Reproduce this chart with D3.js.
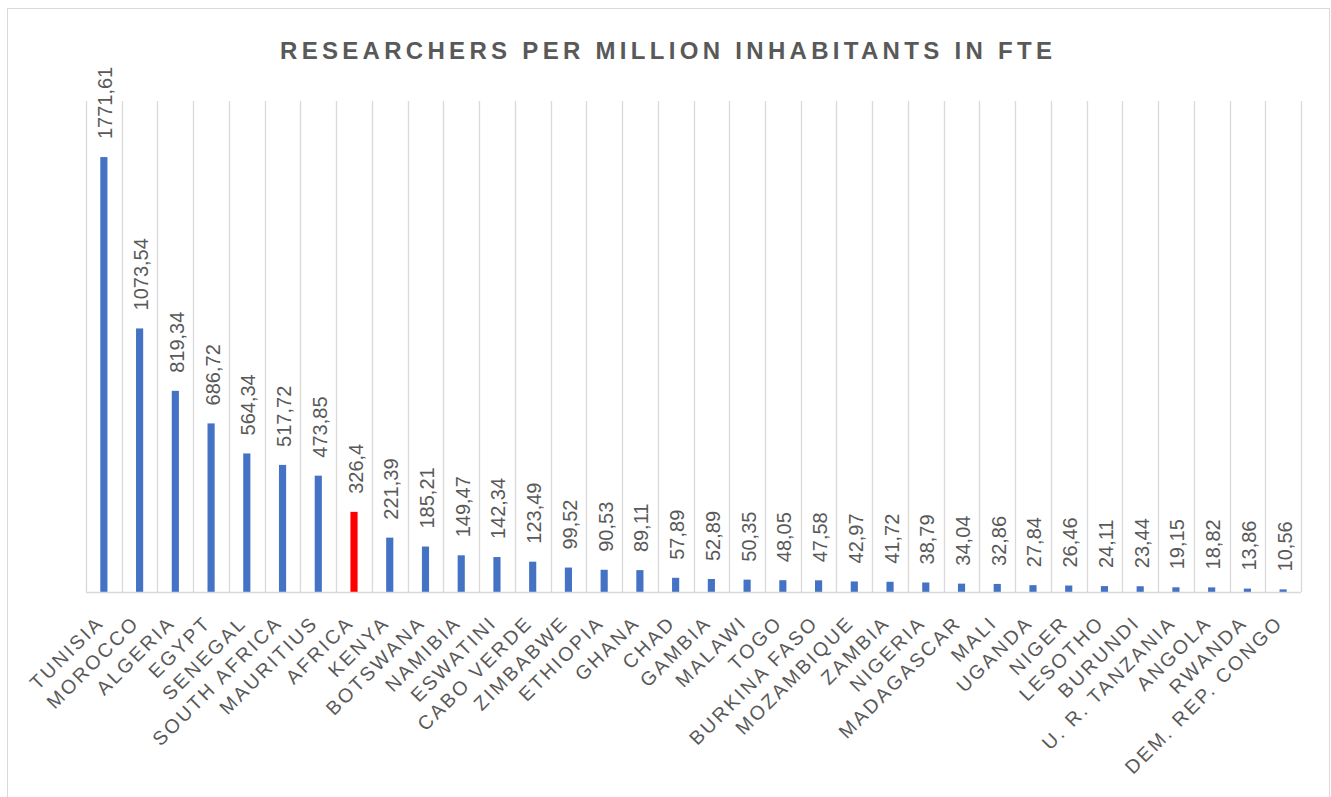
<!DOCTYPE html>
<html>
<head>
<meta charset="utf-8">
<script src="https://cdn.jsdelivr.net/npm/d3@7"></script>
<style>
  body { margin: 0; background: #fff; }
  text { font-family: "Liberation Sans", Arial, sans-serif; fill: #595959; }
</style>
</head>
<body>
<script>
var countries = ["TUNISIA", "MOROCCO", "ALGERIA", "EGYPT", "SENEGAL", "SOUTH AFRICA", "MAURITIUS",
  "AFRICA", "KENYA", "BOTSWANA", "NAMIBIA", "ESWATINI", "CABO VERDE", "ZIMBABWE", "ETHIOPIA",
  "GHANA", "CHAD", "GAMBIA", "MALAWI", "TOGO", "BURKINA FASO", "MOZAMBIQUE", "ZAMBIA", "NIGERIA",
  "MADAGASCAR", "MALI", "UGANDA", "NIGER", "LESOTHO", "BURUNDI", "U. R. TANZANIA", "ANGOLA",
  "RWANDA", "DEM. REP. CONGO"];
var researchers = [1771.61, 1073.54, 819.34, 686.72, 564.34, 517.72, 473.85, 326.4, 221.39, 185.21,
  149.47, 142.34, 123.49, 99.52, 90.53, 89.11, 57.89, 52.89, 50.35, 48.05, 47.58, 42.97, 41.72,
  38.79, 34.04, 32.86, 27.84, 26.46, 24.11, 23.44, 19.15, 18.82, 13.86, 10.56];
var highlight = ["AFRICA"];
var yDomain = [0, 2000];

var width = 1331, height = 797;
var plot = { left: 86, right: 1301, top: 101, bottom: 592 };

var data = countries.map(function(c, i) { return { name: c, value: researchers[i] }; });

var svg = d3.select("body").append("svg")
  .attr("width", width)
  .attr("height", height);

// chart border
svg.append("rect")
  .attr("x", 7.5).attr("y", 8.5)
  .attr("width", 1322).attr("height", 800)
  .attr("fill", "none")
  .attr("stroke", "#d9d9d9");

svg.append("text")
  .attr("x", (280 + 1052) / 2)
  .attr("y", 59)
  .attr("text-anchor", "middle")
  .attr("textLength", 772)
  .attr("lengthAdjust", "spacing")
  .style("font-size", "24px")
  .style("font-weight", "bold")
  .text("RESEARCHERS PER MILLION INHABITANTS IN FTE");

var x = d3.scaleBand()
  .domain(countries)
  .range([plot.left, plot.right])
  .paddingInner(0.8)
  .paddingOuter(0.4);

var y = d3.scaleLinear()
  .domain(yDomain)
  .range([plot.bottom, plot.top]);

// vertical gridlines between categories
var grid = svg.append("g");
for (var i = 0; i <= countries.length; i++) {
  var gx = Math.round(plot.left + i * (plot.right - plot.left) / countries.length) + 0.5;
  grid.append("line")
    .attr("x1", gx).attr("x2", gx)
    .attr("y1", plot.top).attr("y2", plot.bottom)
    .attr("stroke", "#d9d9d9")
    .attr("stroke-width", 1.3);
}

svg.append("g")
  .selectAll("rect")
  .data(data)
  .enter().append("rect")
    .attr("x", function(d) { return x(d.name); })
    .attr("width", x.bandwidth())
    .attr("y", function(d) { return y(d.value); })
    .attr("height", function(d) { return y(0) - y(d.value); })
    .attr("fill", function(d) { return highlight.indexOf(d.name) >= 0 ? "#ff0000" : "#4472c4"; });

// baseline
svg.append("line")
  .attr("x1", plot.left).attr("x2", plot.right)
  .attr("y1", plot.bottom + 0.5).attr("y2", plot.bottom + 0.5)
  .attr("stroke", "#d9d9d9")
  .attr("stroke-width", 1.5);

// value labels, rotated
svg.append("g")
  .selectAll("text")
  .data(data)
  .enter().append("text")
    .attr("transform", function(d) {
      var cx = x(d.name) + x.bandwidth() / 2 + 1.5;
      return "translate(" + cx + "," + (y(d.value) - 18) + ") rotate(-90)";
    })
    .attr("dy", "0.35em")
    .style("font-size", "20px")
    .text(function(d) { return String(d.value).replace(".", ","); });

// category labels
svg.append("g")
  .selectAll("text")
  .data(data)
  .enter().append("text")
    .attr("transform", function(d) {
      var cx = x(d.name) + x.bandwidth() / 2 + 1;
      return "translate(" + cx + "," + (plot.bottom + 32) + ") rotate(-45)";
    })
    .attr("text-anchor", "end")
    .style("font-size", "19.5px")
    .style("letter-spacing", "2.5px")
    .text(function(d) { return d.name; });
</script>
</body>
</html>
